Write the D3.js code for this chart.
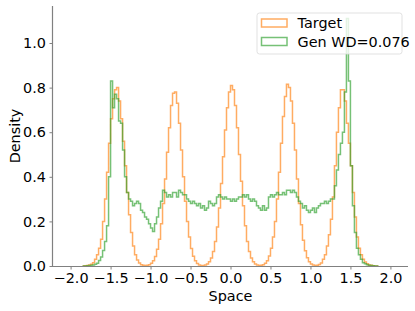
<!DOCTYPE html>
<html><head><meta charset="utf-8">
<script src="https://cdn.jsdelivr.net/npm/d3@7"></script>
<style>body{margin:0;background:#fff}svg{display:block}text{font-family:"DejaVu Sans",sans-serif}</style>
</head><body><svg id="c" width="415" height="311"></svg>
<script>
// histogram bins: 148 bins of width 0.025 from -1.85
const binStart = -1.85;
const binWidth = 0.025;
const seriesNames = ["Target", "Gen WD=0.076"];
const targetDensity = [
0,0.001,0.002,0.004,0.008,0.015,0.03,0.05,0.08,0.12,
0.2,0.3,0.42,0.55,0.66,0.75,0.79,0.8,0.74,0.66,
0.56,0.45,0.33,0.23,0.15,0.09,0.05,0.027,0.013,0.006,
0.003,0.002,0.003,0.006,0.012,0.024,0.043,0.075,0.12,0.19,
0.28,0.39,0.51,0.62,0.72,0.775,0.78,0.73,0.64,0.52,
0.4,0.29,0.2,0.13,0.078,0.044,0.023,0.011,0.005,0.002,
0.002,0.004,0.009,0.019,0.036,0.065,0.11,0.175,0.26,0.37,
0.49,0.61,0.71,0.78,0.81,0.79,0.72,0.62,0.5,0.38,
0.27,0.18,0.11,0.065,0.036,0.019,0.009,0.004,0.002,0.003,
0.006,0.012,0.024,0.045,0.08,0.13,0.2,0.3,0.42,0.55,
0.67,0.76,0.815,0.8,0.74,0.64,0.52,0.39,0.28,0.185,
0.115,0.068,0.037,0.019,0.009,0.004,0.002,0.003,0.007,0.014,
0.03,0.05,0.09,0.14,0.21,0.31,0.45,0.6,0.71,0.79,
0.79,0.74,0.64,0.55,0.45,0.33,0.22,0.13,0.08,0.05,
0.03,0.018,0.01,0.005,0.003,0.001,0,0
];
const genDensity = [
0,0,0.001,0.002,0.003,0.005,0.008,0.012,0.025,0.04,
0.07,0.11,0.18,0.4,0.83,0.71,0.77,0.75,0.65,0.64,
0.52,0.4,0.33,0.3,0.29,0.27,0.28,0.29,0.28,0.25,
0.24,0.22,0.21,0.19,0.17,0.155,0.19,0.22,0.26,0.29,
0.34,0.33,0.31,0.32,0.31,0.33,0.33,0.31,0.34,0.33,
0.32,0.32,0.3,0.29,0.28,0.29,0.28,0.27,0.28,0.26,
0.27,0.25,0.26,0.29,0.28,0.27,0.28,0.31,0.32,0.31,
0.3,0.31,0.3,0.3,0.29,0.3,0.29,0.3,0.31,0.31,
0.32,0.31,0.32,0.3,0.29,0.3,0.29,0.27,0.26,0.25,
0.27,0.25,0.26,0.31,0.32,0.31,0.32,0.33,0.32,0.32,
0.33,0.32,0.34,0.34,0.33,0.34,0.33,0.31,0.29,0.28,
0.26,0.27,0.25,0.24,0.25,0.26,0.24,0.26,0.27,0.28,
0.28,0.29,0.28,0.29,0.3,0.3,0.36,0.43,0.5,0.55,
0.6,0.78,1.11,0.83,0.45,0.27,0.15,0.08,0.05,0.03,
0.015,0.01,0.006,0.003,0.002,0.001,0,0
];
const xTicks = [-2.0, -1.5, -1.0, -0.5, 0.0, 0.5, 1.0, 1.5, 2.0];
const yTicks = [0.0, 0.2, 0.4, 0.6, 0.8, 1.0];
const colors = ["#ff7f0e", "#2ca02c"];

const svg = d3.select("#c");
const x = d3.scaleLinear().domain([-2.22, 2.22]).range([53, 408]);
const y = d3.scaleLinear().domain([0, 1.166]).range([266, 6]);

function stepPoints(vals) {
  const pts = [[binStart, 0]];
  vals.forEach((v, i) => {
    const e0 = binStart + i * binWidth, e1 = e0 + binWidth;
    pts.push([e0, v], [e1, v]);
  });
  pts.push([binStart + vals.length * binWidth, 0]);
  return pts;
}
const line = d3.line().x(d => x(d[0])).y(d => y(d[1]));
[targetDensity, genDensity].forEach((vals, k) => {
  svg.append("path").attr("d", line(stepPoints(vals)))
    .attr("fill", "none").attr("stroke", colors[k])
    .attr("stroke-opacity", 0.65).attr("stroke-width", 1.5)
    .attr("stroke-linejoin", "miter");
});

const fs = 14.4;
const xAxis = svg.append("g").attr("transform", "translate(0,266)")
  .call(d3.axisBottom(x).tickValues(xTicks).tickSize(3.5).tickPadding(3.5)
    .tickFormat(d => d3.format(".1f")(d).replace("-", "\u2212")));
const yAxis = svg.append("g").attr("transform", "translate(53,0)")
  .call(d3.axisLeft(y).tickValues(yTicks).tickSize(3.5).tickPadding(3.5)
    .tickFormat(d3.format(".1f")));
[xAxis, yAxis].forEach(g => {
  g.select(".domain").attr("stroke", "#808080").attr("stroke-width", 1.2);
  g.selectAll(".tick line").attr("stroke", "#808080").attr("stroke-width", 1);
  g.selectAll(".tick text").attr("fill", "#000").style("font-size", fs + "px")
    .style("font-family", "DejaVu Sans");
});
xAxis.select(".domain").attr("d", "M53,0.5H408");
yAxis.select(".domain").attr("d", "M-0.5,6V266");

svg.append("text").attr("x", 230.5).attr("y", 300.5).attr("text-anchor", "middle")
  .style("font-size", fs + "px").text("Space");
svg.append("text").attr("transform", "translate(19.5,136) rotate(-90)")
  .attr("text-anchor", "middle").style("font-size", fs + "px").text("Density");

// legend
const lg = svg.append("g");
lg.append("rect").attr("x", 257).attr("y", 13).attr("width", 145).attr("height", 41)
  .attr("rx", 2.5).attr("fill", "#fff").attr("fill-opacity", 0.8)
  .attr("stroke", "#d9d9d9").attr("stroke-width", 0.8);
seriesNames.forEach((name, k) => {
  const yy = 19 + k * 18.5;
  lg.append("rect").attr("x", 261.5).attr("y", yy).attr("width", 25.5).attr("height", 8)
    .attr("fill", "none").attr("stroke", colors[k]).attr("stroke-opacity", 0.65)
    .attr("stroke-width", 1.5);
  lg.append("text").attr("x", 297.5).attr("y", yy + 9)
    .style("font-size", fs + "px").text(name);
});
</script></body></html>
